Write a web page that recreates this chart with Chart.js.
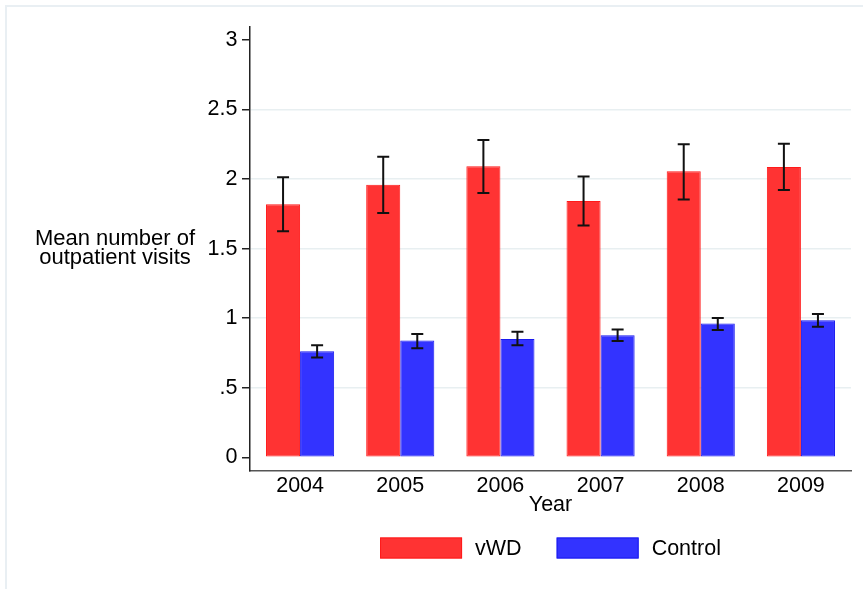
<!DOCTYPE html>
<html>
<head>
<meta charset="utf-8">
<script src="https://cdn.jsdelivr.net/npm/chart.js@4.4.1/dist/chart.umd.min.js"></script>
<style>
  html, body { margin: 0; padding: 0; background: #ffffff; }
  #wrap { width: 863px; height: 589px; position: relative; }
  canvas { display: block; }
</style>
</head>
<body>
<div id="wrap"><canvas id="chart" width="863" height="589"></canvas></div>
<script>
// Mean number of outpatient visits per year, with 95% confidence limits
const years = ['2004', '2005', '2006', '2007', '2008', '2009'];

const vwdMean = [1.820, 1.960, 2.092, 1.842, 2.056, 2.087];
const vwdLow  = [1.625, 1.756, 1.900, 1.666, 1.854, 1.921];
const vwdHigh = [2.014, 2.161, 2.281, 2.019, 2.251, 2.254];

const ctrlMean = [0.763, 0.840, 0.851, 0.878, 0.962, 0.986];
const ctrlLow  = [0.718, 0.785, 0.806, 0.837, 0.916, 0.938];
const ctrlHigh = [0.806, 0.887, 0.902, 0.919, 1.002, 1.031];

const yTickValues = [0, 0.5, 1, 1.5, 2, 2.5, 3];
const yTickLabels = ['0', '.5', '1', '1.5', '2', '2.5', '3'];

const seriesNames = ['vWD', 'Control'];
const yTitleLines = ['Mean number of', 'outpatient visits'];
const xTitle = 'Year';

const FONT = '"Liberation Sans", Arial, Helvetica, sans-serif';
const FONT_SIZE = 21.5;
const TITLE_SIZE = 22;
const PLOT = { left: 250, right: 851, top: 27, bottom: 471 };

// light outer frame of the graph region
const framePlugin = {
  id: 'frame',
  beforeDraw(chart) {
    const ctx = chart.ctx;
    ctx.save();
    ctx.fillStyle = '#ffffff';
    ctx.fillRect(0, 0, chart.width, chart.height);
    ctx.strokeStyle = '#e9eff3';
    ctx.lineWidth = 2;
    ctx.strokeRect(6, 6, chart.width + 20, chart.height + 20);
    ctx.restore();
  }
};

// confidence-interval whiskers on top of each bar
const errorBarPlugin = {
  id: 'errorBars',
  afterDatasetsDraw(chart) {
    const ctx = chart.ctx;
    const yScale = chart.scales.y;
    ctx.save();
    ctx.strokeStyle = '#111111';
    ctx.lineWidth = 2;
    chart.data.datasets.forEach((ds, di) => {
      const meta = chart.getDatasetMeta(di);
      meta.data.forEach((bar, i) => {
        const x = bar.x;
        const yHi = yScale.getPixelForValue(ds.errHigh[i]);
        const yLo = yScale.getPixelForValue(ds.errLow[i]);
        const cap = 6;
        ctx.beginPath();
        ctx.moveTo(x, yHi); ctx.lineTo(x, yLo);
        ctx.moveTo(x - cap, yHi); ctx.lineTo(x + cap, yHi);
        ctx.moveTo(x - cap, yLo); ctx.lineTo(x + cap, yLo);
        ctx.stroke();
      });
    });
    ctx.restore();
  }
};

// horizontal two-line y title and the legend row below the plot
const textPlugin = {
  id: 'extraText',
  afterDraw(chart) {
    const ctx = chart.ctx;
    const area = chart.chartArea;
    ctx.save();
    ctx.font = TITLE_SIZE + 'px ' + FONT;
    ctx.fillStyle = '#000000';
    ctx.textAlign = 'center';
    ctx.textBaseline = 'alphabetic';
    ctx.fillText(yTitleLines[0], 115, 245);
    ctx.fillText(yTitleLines[1], 115, 264);

    // legend
    ctx.font = FONT_SIZE + 'px ' + FONT;
    const boxW = 82, boxH = 21, gap = 13, itemGap = 35;
    const items = chart.data.datasets.map(ds => ({
      text: ds.label, fill: ds.backgroundColor, stroke: ds.borderColor,
      w: ctx.measureText(ds.label).width
    }));
    let total = 0;
    items.forEach((it, i) => { total += boxW + gap + it.w + (i ? itemGap : 0); });
    let x = (area.left + area.right) / 2 - total / 2;
    const boxTop = 537.5;
    ctx.textAlign = 'left';
    ctx.textBaseline = 'middle';
    items.forEach(it => {
      ctx.fillStyle = it.fill;
      ctx.fillRect(x, boxTop, boxW, boxH);
      ctx.strokeStyle = it.stroke;
      ctx.lineWidth = 1;
      ctx.strokeRect(x + 0.5, boxTop + 0.5, boxW - 1, boxH - 1);
      ctx.fillStyle = '#000000';
      ctx.fillText(it.text, x + boxW + gap, boxTop + boxH / 2 + 1);
      x += boxW + gap + it.w + itemGap;
    });
    ctx.restore();
  }
};

const chart = new Chart(document.getElementById('chart'), {
  type: 'bar',
  data: {
    labels: years,
    datasets: [
      {
        label: seriesNames[0],
        data: vwdMean,
        errLow: vwdLow,
        errHigh: vwdHigh,
        backgroundColor: '#ff3333',
        borderColor: '#ff1a1a',
        borderWidth: 1,
        borderSkipped: false
      },
      {
        label: seriesNames[1],
        data: ctrlMean,
        errLow: ctrlLow,
        errHigh: ctrlHigh,
        backgroundColor: '#3333ff',
        borderColor: '#1a1aee',
        borderWidth: 1,
        borderSkipped: false
      }
    ]
  },
  options: {
    responsive: false,
    animation: false,
    devicePixelRatio: 1,
    layout: { padding: { left: 0, right: 863 - PLOT.right, top: PLOT.top, bottom: 0 } },
    datasets: { bar: { categoryPercentage: 0.68, barPercentage: 1.0 } },
    plugins: {
      legend: { display: false },
      tooltip: { enabled: false }
    },
    scales: {
      x: {
        offset: true,
        grid: { display: false, drawTicks: false },
        border: { display: true, color: '#555555', width: 1.5 },
        ticks: {
          color: '#000000',
          padding: 2,
          font: { family: FONT, size: FONT_SIZE }
        },
        title: {
          display: true,
          text: xTitle,
          color: '#000000',
          font: { family: FONT, size: FONT_SIZE },
          padding: { top: 0, bottom: 71 }
        },
        afterFit(scale) { scale.height = 589 - PLOT.bottom; }
      },
      y: {
        min: -0.098,
        max: 3.093,
        afterBuildTicks(scale) { scale.ticks = yTickValues.map(v => ({ value: v })); },
        grid: {
          color: ctx => (ctx.tick && (ctx.tick.value === 0 || ctx.tick.value === 3)) ? 'rgba(0,0,0,0)' : '#e8eff1',
          lineWidth: 1.5,
          tickColor: '#222222',
          tickWidth: 1.5,
          tickLength: 8
        },
        border: { display: true, color: '#222222', width: 1.5 },
        ticks: {
          color: '#000000',
          padding: 4.5,
          font: { family: FONT, size: FONT_SIZE },
          callback: (value) => {
            const i = yTickValues.indexOf(value);
            return i >= 0 ? yTickLabels[i] : '';
          }
        },
        afterFit(scale) { scale.width = PLOT.left; }
      }
    }
  },
  plugins: [framePlugin, errorBarPlugin, textPlugin]
});
</script>
</body>
</html>
